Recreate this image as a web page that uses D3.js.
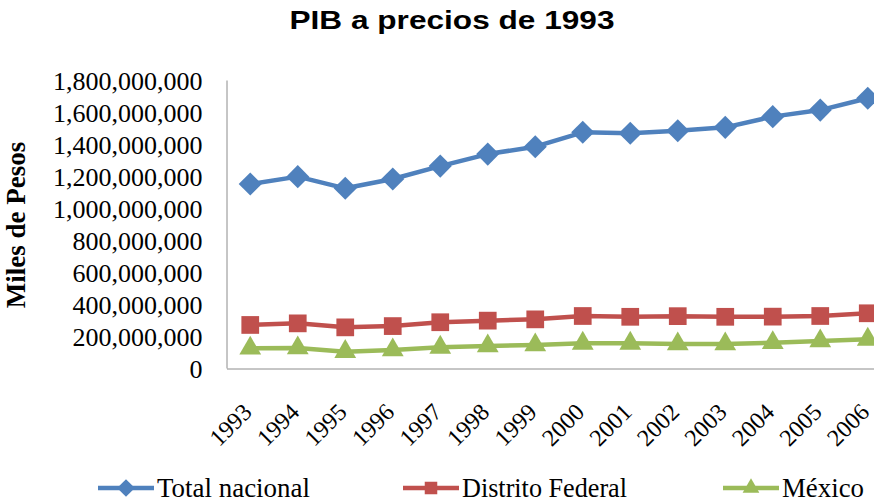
<!DOCTYPE html>
<html>
<head>
<meta charset="utf-8">
<script src="https://cdn.jsdelivr.net/npm/d3@7"></script>
<style>
  body { margin: 0; background: #fff; }
</style>
</head>
<body>
<div id="my_dataviz"></div>
<script>
// data
var years = ["1993","1994","1995","1996","1997","1998","1999","2000","2001","2002","2003","2004","2005","2006"];
var totalNacional = [1150e6, 1196e6, 1123e6, 1181e6, 1262e6, 1337e6, 1383e6, 1473e6, 1467e6, 1483e6, 1504e6, 1571e6, 1612e6, 1686e6];
var distritoFederal = [269e6, 279e6, 254e6, 262e6, 286e6, 296e6, 304e6, 325e6, 320e6, 324e6, 320e6, 321e6, 325e6, 342e6];
var mexico = [123e6, 125e6, 102e6, 112e6, 129e6, 137e6, 144e6, 154e6, 154e6, 150e6, 150e6, 158e6, 169e6, 179e6];
var yTicks = [0, 200e6, 400e6, 600e6, 800e6, 1000e6, 1200e6, 1400e6, 1600e6, 1800e6];
var seriesNames = ["Total nacional", "Distrito Federal", "México"];

var series = [
  {name: seriesNames[0], values: totalNacional, color: "#4F81BD", shape: d3.symbolDiamond2},
  {name: seriesNames[1], values: distritoFederal, color: "#C0504D", shape: d3.symbolSquare2},
  {name: seriesNames[2], values: mexico, color: "#9BBB59", shape: d3.symbolTriangle2}
];

// set the dimensions
var width = 874, height = 503;
var plotLeft = 226.5, plotTop = 80, plotBottom = 368;

var svg = d3.select("#my_dataviz")
  .append("svg")
    .attr("width", width)
    .attr("height", height);

// scales
var x = d3.scaleBand()
  .domain(years)
  .range([plotLeft, plotLeft + 47.5 * years.length]);
var y = d3.scaleLinear()
  .domain([0, 1800e6])
  .range([plotBottom, plotTop]);

// title
svg.append("text")
  .attr("x", 452)
  .attr("y", 29)
  .attr("text-anchor", "middle")
  .attr("textLength", 325)
  .attr("lengthAdjust", "spacingAndGlyphs")
  .style("font-family", "'Liberation Sans', Arial, sans-serif")
  .style("font-weight", "bold")
  .style("font-size", "25px")
  .text("PIB a precios de 1993");

// Y axis
var yAxis = svg.append("g")
  .attr("transform", "translate(" + plotLeft + ",0)")
  .call(d3.axisLeft(y).tickValues(yTicks).tickSize(0).tickPadding(24).tickFormat(d3.format(",")));
yAxis.select(".domain").attr("stroke", "#8c8c8c");
yAxis.selectAll("text")
  .attr("dy", "0.38em")
  .style("font-family", "'Liberation Serif', 'Times New Roman', serif")
  .style("font-size", "26px")
  .attr("fill", "#000");

// X axis
var xAxis = svg.append("g")
  .attr("transform", "translate(0," + (plotBottom + 0.5) + ")")
  .call(d3.axisBottom(x).tickSize(0).tickSizeOuter(0));
xAxis.select(".domain").attr("stroke", "#8c8c8c");
xAxis.selectAll("text")
  .attr("y", null)
  .attr("dy", null)
  .attr("text-anchor", "end")
  .attr("transform", "translate(3,45) rotate(-45)")
  .style("font-family", "'Liberation Serif', 'Times New Roman', serif")
  .style("font-size", "24px")
  .attr("fill", "#000");

// Y axis title
svg.append("text")
  .attr("transform", "translate(25,225) rotate(-90)")
  .attr("text-anchor", "middle")
  .style("font-family", "'Liberation Serif', 'Times New Roman', serif")
  .style("font-weight", "bold")
  .style("font-size", "27px")
  .text("Miles de Pesos");

// lines and markers
var line = d3.line()
  .x(function(d, i) { return x(years[i]) + x.bandwidth() / 2; })
  .y(function(d) { return y(d); });

series.forEach(function(s) {
  svg.append("path")
    .datum(s.values)
    .attr("d", line)
    .attr("fill", "none")
    .attr("stroke", s.color)
    .attr("stroke-width", 4.5)
    .attr("stroke-linejoin", "round");

  svg.selectAll(null)
    .data(s.values)
    .enter()
    .append("path")
      .attr("d", d3.symbol().type(s.shape).size(s.shape === d3.symbolSquare2 ? 400 : 340))
      .attr("transform", function(d, i) { return "translate(" + (x(years[i]) + x.bandwidth() / 2) + "," + y(d) + ")"; })
      .attr("fill", s.color);
});

// legend (kept inside the bottom edge)
var legendX = [98, 403, 723];
var legendTextW = [153, 165, 82];
var legend = svg.selectAll(".legend")
  .data(series)
  .enter()
  .append("g")
    .attr("class", "legend")
    .attr("transform", function(d, i) { return "translate(" + legendX[i] + ",488)"; });

legend.append("line")
  .attr("x1", 0).attr("x2", 56)
  .attr("stroke", function(d) { return d.color; })
  .attr("stroke-width", 4.5);
legend.append("path")
  .attr("d", function(d) { return d3.symbol().type(d.shape).size(200)(); })
  .attr("transform", "translate(28,0)")
  .attr("fill", function(d) { return d.color; });
legend.append("text")
  .attr("x", 59)
  .attr("y", 9)
  .attr("textLength", function(d, i) { return legendTextW[i]; })
  .attr("lengthAdjust", "spacingAndGlyphs")
  .style("font-family", "'Liberation Serif', 'Times New Roman', serif")
  .style("font-size", "28px")
  .text(function(d) { return d.name; });
</script>
</body>
</html>
